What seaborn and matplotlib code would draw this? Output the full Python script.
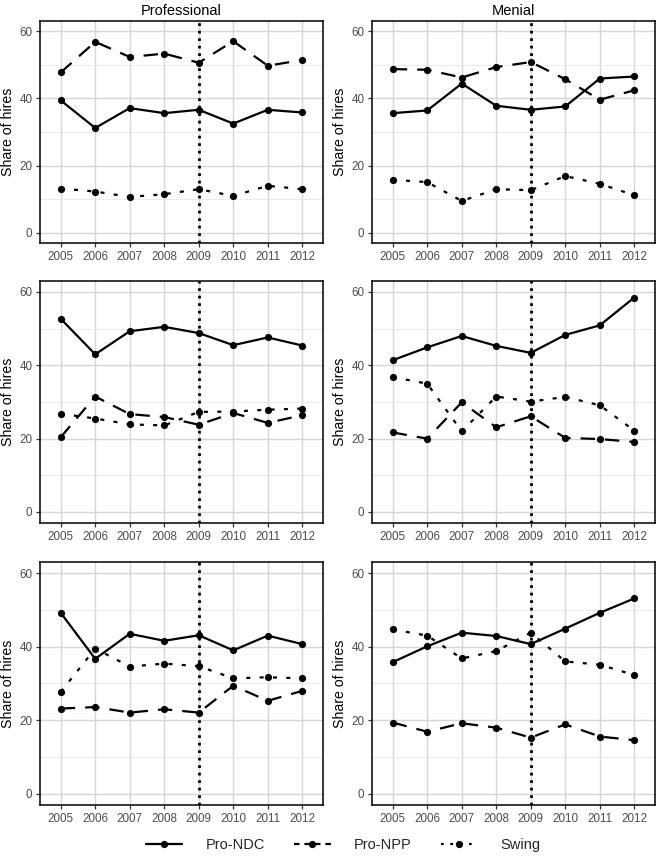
import matplotlib
matplotlib.use("Agg")
import matplotlib.pyplot as plt
from matplotlib.lines import Line2D
from matplotlib.ticker import FixedLocator
import pandas as pd
import seaborn as sns

sns.set_theme(style="white")
plt.rcParams['font.family'] = ['Liberation Sans', 'DejaVu Sans']

years = [2005, 2006, 2007, 2008, 2009, 2010, 2011, 2012]
series_names = ["Pro-NDC", "Pro-NPP", "Swing"]
col_titles = ["Professional", "Menial"]
ylabel_text = "Share of hires"
yticks = [0, 20, 40, 60]
cutoff_year = 2009

# Row 1
r1_prof_ndc = [39.4, 31.2, 37.1, 35.6, 36.6, 32.5, 36.6, 35.8]
r1_prof_npp = [47.7, 56.8, 52.3, 53.3, 50.6, 57.0, 49.7, 51.4]
r1_prof_swing = [13.2, 12.3, 10.7, 11.5, 13.0, 11.0, 14.0, 13.0]
r1_men_ndc = [35.6, 36.4, 44.4, 37.8, 36.6, 37.6, 45.9, 46.5]
r1_men_npp = [48.7, 48.5, 46.2, 49.3, 50.8, 45.7, 39.6, 42.4]
r1_men_swing = [15.8, 15.1, 9.5, 13.0, 12.7, 16.9, 14.6, 11.2]
# Row 2
r2_prof_ndc = [52.7, 43.0, 49.3, 50.5, 48.8, 45.5, 47.6, 45.4]
r2_prof_npp = [20.4, 31.5, 26.7, 25.9, 23.8, 27.0, 24.3, 26.4]
r2_prof_swing = [26.8, 25.5, 23.9, 23.6, 27.3, 27.4, 27.9, 28.2]
r2_men_ndc = [41.4, 44.9, 48.0, 45.3, 43.4, 48.3, 50.9, 58.5]
r2_men_npp = [21.7, 20.0, 29.9, 23.1, 26.1, 20.2, 19.9, 19.1]
r2_men_swing = [36.8, 35.0, 22.0, 31.5, 30.1, 31.4, 29.1, 22.2]
# Row 3
r3_prof_ndc = [49.2, 36.7, 43.5, 41.6, 43.1, 39.0, 43.0, 40.7]
r3_prof_npp = [23.2, 23.6, 22.1, 23.0, 22.1, 29.4, 25.3, 28.0]
r3_prof_swing = [27.7, 39.5, 34.6, 35.4, 34.7, 31.4, 31.7, 31.4]
r3_men_ndc = [35.8, 40.1, 43.8, 42.9, 40.7, 44.9, 49.2, 53.1]
r3_men_npp = [19.4, 16.9, 19.2, 18.0, 15.3, 18.9, 15.6, 14.6]
r3_men_swing = [44.7, 43.0, 36.8, 38.8, 43.8, 36.0, 35.1, 32.3]

panels = [
    [(r1_prof_ndc, r1_prof_npp, r1_prof_swing), (r1_men_ndc, r1_men_npp, r1_men_swing)],
    [(r2_prof_ndc, r2_prof_npp, r2_prof_swing), (r2_men_ndc, r2_men_npp, r2_men_swing)],
    [(r3_prof_ndc, r3_prof_npp, r3_prof_swing), (r3_men_ndc, r3_men_npp, r3_men_swing)],
]

W, H = 660, 857
fig = plt.figure(figsize=(W / 100, H / 100), dpi=100)

col_x = [(40, 323), (372, 655)]
row_y = [(21, 243), (281, 523), (562, 805)]

lw = 1.6
ms = 5.2
dash_map = {"Pro-NDC": "", "Pro-NPP": (6.5, 4.5), "Swing": (1.8, 4.2)}
marker_map = {s: "o" for s in series_names}

for r, row in enumerate(panels):
    for c, vals in enumerate(row):
        x0, x1 = col_x[c]
        yt, yb = row_y[r]
        ax = fig.add_axes([x0 / W, 1 - yb / H, (x1 - x0) / W, (yb - yt) / H])
        recs = []
        for name, v in zip(series_names, vals):
            for yr, val in zip(years, v):
                recs.append({"year": yr, "share": val, "series": name})
        df = pd.DataFrame(recs)
        sns.lineplot(data=df, x="year", y="share", style="series",
                     style_order=series_names, markers=marker_map,
                     dashes=dash_map, color="black", linewidth=lw,
                     markersize=ms, markeredgewidth=0, legend=False, ax=ax)
        ax.axvline(cutoff_year, color="black", lw=2.0, ls=(0, (1, 1.7)), zorder=5)
        ax.set_xlim(2004.4, 2012.6)
        ax.set_ylim(-3, 63)
        ax.set_xticks(years)
        ax.set_xticklabels([str(y) for y in years])
        ax.set_yticks(yticks)
        ax.yaxis.set_minor_locator(FixedLocator([10, 30, 50]))
        ax.set_axisbelow(True)
        ax.grid(which="major", color="#D6D6D6", lw=1.0)
        ax.grid(which="minor", axis="y", color="#E6E6E6", lw=0.6)
        ax.tick_params(axis="both", which="major", length=3, width=0.9,
                       color="#333333", labelsize=8.4, labelcolor="#4D4D4D",
                       pad=2.5, bottom=True, left=True)
        ax.tick_params(which="minor", length=0)
        for sp in ax.spines.values():
            sp.set_color("black")
            sp.set_linewidth(1.1)
        ax.set_xlabel("")
        ax.set_ylabel(ylabel_text, fontsize=10.2, color="black", labelpad=3)
        if r == 0:
            ax.set_title(col_titles[c], fontsize=10.5, color="black", pad=4)

handles = [
    Line2D([], [], color="black", lw=lw, ls="-", marker="o", ms=ms, mew=0),
    Line2D([], [], color="black", lw=lw, ls=(0, (2.5, 2.2)), marker="o", ms=ms, mew=0),
    Line2D([], [], color="black", lw=lw, ls=(0, (1.2, 3)), marker="o", ms=ms, mew=0),
]
fig.legend(handles, series_names, loc="center", bbox_to_anchor=(0.52, 1 - 845 / H),
           ncol=3, frameon=False, fontsize=10.5, handlelength=2.5,
           handletextpad=1.6, columnspacing=2.0, numpoints=1)

fig.savefig("out.png", dpi=100)
